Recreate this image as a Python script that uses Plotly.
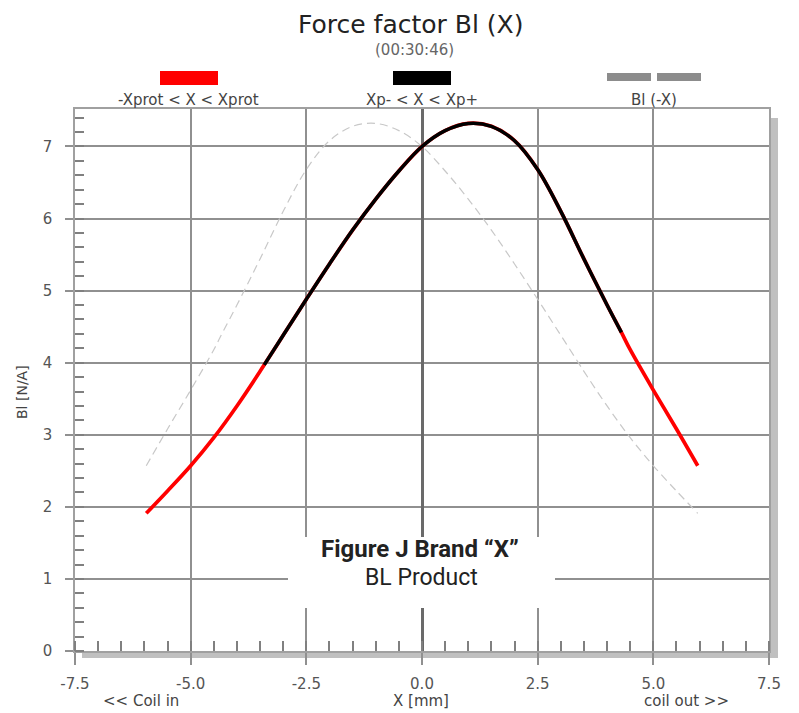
import plotly.graph_objects as go

# ---- data ----
x_mm = [-5.96, -5.5, -5.0, -4.5, -4.0, -3.5, -3.41, -3.0, -2.5, -2.0, -1.5, -1.0, -0.5,
        0.0, 0.5, 1.0, 1.5, 2.0, 2.5, 3.0, 3.5, 4.0, 4.31, 4.5, 5.0, 5.5, 5.96]
bl = [1.91, 2.22, 2.57, 2.96, 3.40, 3.88, 3.97, 4.38, 4.88, 5.37, 5.84, 6.27, 6.66,
      7.00, 7.22, 7.32, 7.28, 7.08, 6.68, 6.10, 5.44, 4.80, 4.42, 4.18, 3.62, 3.08, 2.57]
xp_minus, xp_plus = -3.41, 4.31          # Xp- / Xp+ limits (black segment)
x_ticks = [-7.5, -5.0, -2.5, 0.0, 2.5, 5.0, 7.5]
x_ticktext = ["-7.5", "-5.0", "-2.5", "0.0", "2.5", "5.0", "7.5"]
y_ticks = [0, 1, 2, 3, 4, 5, 6, 7]
y_ticktext = ["0", "1", "2", "3", "4", "5", "6", "7"]

# derived series
x_mid = [x for x in x_mm if xp_minus <= x <= xp_plus]
y_mid = [y for x, y in zip(x_mm, bl) if xp_minus <= x <= xp_plus]
x_mirror = [-x for x in reversed(x_mm)]
y_mirror = list(reversed(bl))

# ---- layout geometry (pixels) ----
W, H = 799, 713
L, R, T, B = 75, 769, 109, 651
def px(xpix):
    return (xpix - L) / (R - L)
def py(ypix):
    return (B - ypix) / (B - T)

FONT = "DejaVu Sans"
fig = go.Figure()

fig.add_trace(go.Scatter(x=x_mirror, y=y_mirror, mode="lines", line_shape="spline",
                         line=dict(color="#c8c8c8", width=1.2, dash="8px,5px"),
                         name="Bl (-X)", hoverinfo="skip"))
fig.add_trace(go.Scatter(x=x_mm, y=bl, mode="lines", line_shape="spline",
                         line=dict(color="#ff0000", width=3.7),
                         name="-Xprot < X < Xprot"))
fig.add_trace(go.Scatter(x=x_mid, y=y_mid, mode="lines", line_shape="spline",
                         line=dict(color="#000000", width=3.5),
                         name="Xp- < X < Xp+"))

axis_common = dict(showgrid=True, gridcolor="#909090", gridwidth=1.5,
                   showline=True, mirror=True, linecolor="#a0a0a0", linewidth=1.5,
                   ticks="outside", tickcolor="#909090", tickwidth=1.5,
                   tickfont=dict(family=FONT, size=15, color="#555555"))

fig.update_xaxes(range=[-7.5, 7.5], tickvals=x_ticks, ticktext=x_ticktext,
                 ticklen=12, ticklabelstandoff=6,
                 zeroline=True, zerolinecolor="#6a6a6a", zerolinewidth=3,
                 minor=dict(dtick=0.5, ticks="inside", ticklen=10, tickcolor="#808080",
                            tickwidth=1.5, showgrid=False),
                 **axis_common)
fig.update_yaxes(range=[0, 7.52], tickvals=y_ticks, ticktext=y_ticktext,
                 ticklen=8, ticklabelstandoff=10,
                 zeroline=True, zerolinecolor="#555555", zerolinewidth=2,
                 minor=dict(dtick=0.2, ticks="inside", ticklen=9, tickcolor="#808080",
                            tickwidth=1.5, showgrid=False),
                 **axis_common)

shapes = []
# shadows
shapes.append(dict(type="rect", xref="paper", yref="paper", layer="below",
                   x0=px(771), x1=px(778), y0=py(658), y1=py(118),
                   fillcolor="#c0c0c0", line=dict(width=0)))
shapes.append(dict(type="rect", xref="paper", yref="paper", layer="below",
                   x0=px(82), x1=px(778), y0=py(658), y1=py(652),
                   fillcolor="#c0c0c0", line=dict(width=0)))
# legend swatches
shapes.append(dict(type="rect", xref="paper", yref="paper",
                   x0=px(160), x1=px(218), y0=py(85), y1=py(71),
                   fillcolor="#ff0000", line=dict(width=0)))
shapes.append(dict(type="rect", xref="paper", yref="paper",
                   x0=px(393), x1=px(451), y0=py(85), y1=py(71),
                   fillcolor="#000000", line=dict(width=0)))
shapes.append(dict(type="rect", xref="paper", yref="paper",
                   x0=px(607), x1=px(651), y0=py(81), y1=py(73),
                   fillcolor="#8c8c8c", line=dict(width=0)))
shapes.append(dict(type="rect", xref="paper", yref="paper",
                   x0=px(657), x1=px(701), y0=py(81), y1=py(73),
                   fillcolor="#8c8c8c", line=dict(width=0)))
# white box behind caption
shapes.append(dict(type="rect", xref="paper", yref="paper", layer="above",
                   x0=px(288), x1=px(555), y0=py(608), y1=py(537),
                   fillcolor="#ffffff", line=dict(width=0)))

def ann(text, xpix, ypix, size, color="#333333", family=FONT, textangle=0, xanchor="center"):
    return dict(text=text, xref="paper", yref="paper", x=px(xpix), y=py(ypix),
                xanchor=xanchor, yanchor="middle", showarrow=False, textangle=textangle,
                font=dict(family=family, size=size, color=color))

annotations = [
    ann("Force factor Bl (X)", 410, 24, 25, "#222222"),
    ann("(00:30:46)", 414, 50, 15, "#666666"),
    ann("-Xprot < X < Xprot", 188, 100, 15, "#444444"),
    ann("Xp- < X < Xp+", 422, 100, 15, "#444444"),
    ann("Bl (-X)", 654, 100, 15, "#444444"),
    ann("Bl [N/A]", 22, 392, 14, "#444444", textangle=-90),
    ann("X [mm]", 421, 701, 15, "#444444"),
    ann("<< Coil in", 141, 701, 15, "#444444"),
    ann("coil out >>", 686, 701, 15, "#444444"),
    ann("<b>Figure J Brand “X”</b>", 420, 549, 24, "#222222", family="Roboto"),
    ann("BL Product", 421, 577, 23, "#222222", family="Roboto"),
]

fig.update_layout(width=W, height=H, autosize=False,
                  margin=dict(l=L, r=W - R, t=T, b=H - B, pad=0),
                  paper_bgcolor="#ffffff", plot_bgcolor="#ffffff",
                  showlegend=False, shapes=shapes, annotations=annotations)

fig.write_html("out.html")
